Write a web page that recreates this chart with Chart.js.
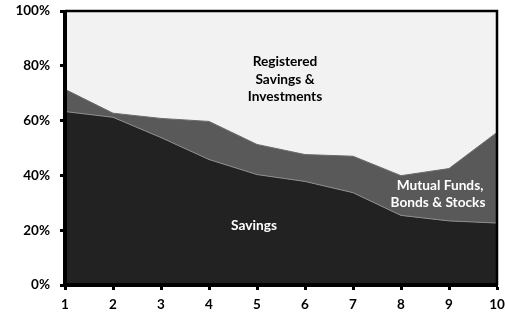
<!DOCTYPE html>
<html><head><meta charset="utf-8">
<script src="https://cdn.jsdelivr.net/npm/chart.js@4/dist/chart.umd.min.js"></script>
<style>html,body{margin:0;padding:0;background:#fff}#w{width:505px;height:315px}</style>
</head><body><div id="w"><canvas id="c"></canvas></div>
<script>
const categories = ['1','2','3','4','5','6','7','8','9','10'];
const savings = [63.3, 61.2, 53.8, 45.8, 40.3, 37.8, 33.7, 25.4, 23.4, 22.6];
const mutualFunds = [8.1, 1.5, 7.0, 13.9, 11.0, 9.8, 13.3, 14.5, 19.1, 33.1];
const registered = [28.6, 37.3, 39.2, 40.3, 48.7, 52.4, 53.0, 60.1, 57.5, 44.3];
const yTicks = [0, 20, 40, 60, 80, 100];
const FONT = 'Lato, "Open Sans", sans-serif';

const annotations = {
  id: 'annot',
  afterDatasetsDraw(chart) {
    const {ctx, chartArea: a} = chart;
    ctx.save();
    ctx.strokeStyle = '#000';
    ctx.beginPath();
    ctx.moveTo(a.left, a.top); ctx.lineTo(a.right, a.top); ctx.lineTo(a.right, a.bottom);
    ctx.lineWidth = 2.5; ctx.stroke();
    ctx.beginPath(); ctx.lineWidth = 4;
    ctx.moveTo(a.left, a.top - 1); ctx.lineTo(a.left, a.bottom); ctx.lineTo(a.right + 1, a.bottom); ctx.stroke();
    ctx.font = 'bold 13.7px ' + FONT;
    ctx.textAlign = 'center'; ctx.textBaseline = 'middle';
    ctx.fillStyle = '#000';
    ['Registered', 'Savings &', 'Investments'].forEach((t, i) => ctx.fillText(t, 285, 62 + i * 17.5));
    ctx.fillStyle = '#fff';
    ctx.fillText('Savings', 254, 226);
    ctx.fillText('Mutual Funds,', 440, 186);
    ctx.fillText('Bonds & Stocks', 438, 203);
    ctx.restore();
  }
};

new Chart(document.getElementById('c'), {
  type: 'line',
  data: {
    labels: categories,
    datasets: [
      {label: 'Savings', data: savings, backgroundColor: '#222222', borderColor: '#8c8c8c', borderWidth: 1, fill: 'origin', pointRadius: 0, tension: 0},
      {label: 'Mutual Funds, Bonds & Stocks', data: mutualFunds, backgroundColor: '#595959', borderColor: '#6a6a6a', borderWidth: 1, fill: '-1', pointRadius: 0, tension: 0},
      {label: 'Registered Savings & Investments', data: registered, backgroundColor: '#f2f2f2', borderColor: '#f2f2f2', borderWidth: 0, fill: '-1', pointRadius: 0, tension: 0}
    ]
  },
  options: {
    responsive: true, maintainAspectRatio: false, animation: false,
    layout: {padding: {left: 0, right: 8, top: 11, bottom: 0}},
    plugins: {legend: {display: false}, tooltip: {enabled: false}},
    scales: {
      x: {
        offset: false,
        grid: {drawOnChartArea: false, drawTicks: true, tickLength: 5, tickWidth: 3, color: '#000'},
        border: {display: true, color: '#000', width: 3},
        ticks: {color: '#000', font: {family: FONT, weight: 'bold', size: 13.5}, padding: 7, maxRotation: 0, autoSkip: false},
        afterFit: s => { s.height = 30; s.paddingLeft = 0; s.paddingRight = 0; }
      },
      y: {
        stacked: true, min: 0, max: 100,
        afterBuildTicks: s => { s.ticks = yTicks.map(v => ({value: v})); },
        grid: {drawOnChartArea: false, drawTicks: true, tickLength: 5, tickWidth: 3, color: '#000'},
        border: {display: true, color: '#000', width: 3},
        ticks: {color: '#000', font: {family: FONT, weight: 'bold', size: 13.5}, padding: 10, callback: v => v + '%'},
        afterFit: s => { s.width = 65; s.paddingTop = 0; s.paddingBottom = 0; }
      }
    }
  },
  plugins: [annotations]
});
</script></body></html>
